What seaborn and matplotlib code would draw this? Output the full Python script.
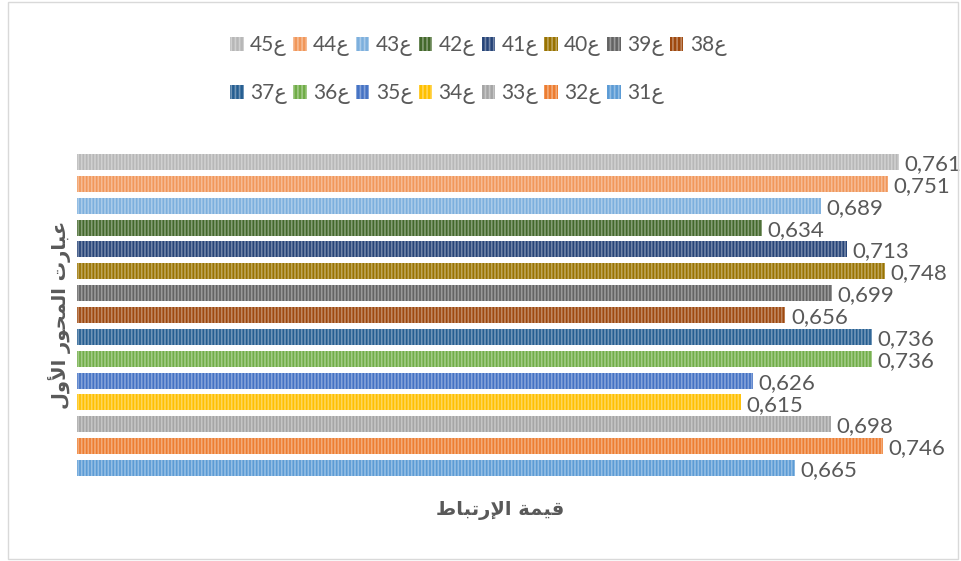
import matplotlib
matplotlib.use("Agg")
import matplotlib.pyplot as plt
import seaborn as sns
import numpy as np
import pandas as pd
from matplotlib.patches import Rectangle, Patch
from matplotlib.colors import to_rgb

sns.set_theme(style="white")
plt.rcParams['font.family'] = ['Lato', 'DejaVu Sans']
plt.rcParams['hatch.linewidth'] = 1.2

# ---- data ----
categories = ["ع45", "ع44", "ع43", "ع42", "ع41", "ع40", "ع39", "ع38",
              "ع37", "ع36", "ع35", "ع34", "ع33", "ع32", "ع31"]
legend_labels = ["45ع", "44ع", "43ع", "42ع", "41ع", "40ع", "39ع", "38ع",
                 "37ع", "36ع", "35ع", "34ع", "33ع", "32ع", "31ع"]
values = [0.761, 0.751, 0.689, 0.634, 0.713, 0.748, 0.699, 0.656,
          0.736, 0.736, 0.626, 0.615, 0.698, 0.746, 0.665]
colors = ["#B7B7B7", "#F1975A", "#7CAFDD", "#43682B", "#264478", "#997300",
          "#636363", "#9E480E", "#255E91", "#70AD47", "#4472C4", "#FFC000",
          "#A5A5A5", "#ED7D31", "#5B9BD5"]
# visual-order Arabic presentation forms
x_title = "\uFEC1\uFE8E\uFE92\uFE97\uFEAD\uFEF9\uFE8D \uFE94\uFEE4\uFEF4\uFED7"   # قيمة الإرتباط
y_title = "\uFEDD\uFEED\uFEF7\uFE8D \uFEAD\uFEEE\uFEA4\uFEE4\uFEDF\uFE8D \uFE95\uFEAD\uFE8E\uFE92\uFECB"  # عبارت المحور الأول

TXT = "#595959"

df = pd.DataFrame({"item": categories, "value": values})

fig = plt.figure(figsize=(9.61, 5.61), dpi=100)
ax = fig.add_axes([77/961, 1 - 479/561, 864/961, 328/561])

sns.barplot(data=df, x="value", y="item", hue="item", palette=colors,
            order=categories, hue_order=categories, orient="h",
            width=0.73, legend=False, ax=ax, saturation=1)

def lighten(c, f=0.35):
    r, g, b = to_rgb(c)
    return (r + (1 - r) * f, g + (1 - g) * f, b + (1 - b) * f)

for p in ax.patches:
    fc = p.get_facecolor()
    p.set_edgecolor(lighten(fc[:3]))
    p.set_linewidth(0)
    p.set_hatch("|||||")

for i, v in enumerate(values):
    ax.text(v + 0.005, i + 0.1, f"{v:.3f}".replace(".", ","), va="center",
            ha="left", fontsize=16, color=TXT)

ax.set_xlim(0, 0.8)
ax.set_ylim(len(categories) - 0.5, -0.5)
ax.set_xticks([])
ax.set_yticks([])
ax.set_xlabel("")
ax.set_ylabel("")
for s in ax.spines.values():
    s.set_visible(False)

fig.text(500/961, 1 - 511/561, x_title, ha="center", va="center",
         fontsize=14, fontweight="bold", color=TXT, family=["DejaVu Sans"])
fig.text(60/961, 1 - 315/561, y_title, ha="center", va="center",
         rotation=90, fontsize=14, fontweight="bold", color=TXT,
         family=["DejaVu Sans"])

# legend: row1 45..38, row2 37..31 (column-major fill)
handles = [Patch(facecolor=c, edgecolor=lighten(c), linewidth=0, hatch="||||")
           for c in colors]
order = []
for k in range(8):
    order.append(k)
    if k + 8 < 15:
        order.append(k + 8)
leg = fig.legend([handles[k] for k in order], [legend_labels[k] for k in order],
                 ncol=8, loc="upper left", bbox_to_anchor=(222/961, 1 - 27/561),
                 frameon=False, fontsize=15, labelcolor=TXT,
                 handlelength=0.65, handleheight=0.65, handletextpad=0.3,
                 columnspacing=0.3, labelspacing=1.3, borderaxespad=0)

fig.patches.append(Rectangle((8/961, 2/561), 950/961, 557/561, transform=fig.transFigure,
                             fill=False, edgecolor="#D9D9D9", linewidth=1))

fig.savefig("out.png", dpi=100)
